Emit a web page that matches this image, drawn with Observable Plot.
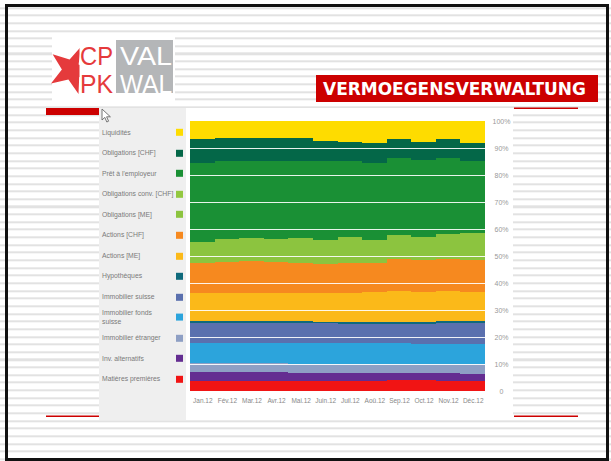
<!DOCTYPE html>
<html><head><meta charset="utf-8">
<script src="https://cdn.jsdelivr.net/npm/d3@7"></script>
<script src="https://cdn.jsdelivr.net/npm/@observablehq/plot@0.6"></script>
<style>
body{margin:0;background:#fff;}
#slide{position:relative;width:611px;height:461px;overflow:hidden;font-family:"Liberation Sans",Arial,sans-serif;
background:repeating-linear-gradient(to bottom,#fff 0px,#fff 5.6px,#e2e2e2 5.6px,#e2e2e2 7.65px);background-position:0 1.3px;}
.abs{position:absolute;}
#frame{left:5px;top:4px;width:604px;height:457px;border:3px solid #111;box-sizing:border-box;}
#legendPanel{left:99px;top:108px;width:87px;height:312px;background:#efefef;}
#chartPanel{left:186px;top:108px;width:327px;height:312px;background:#fff;}
.item{position:absolute;left:102px;width:84px;display:flex;align-items:center;transform:translateY(-50%);}
.item span{font-size:6.8px;line-height:8.4px;color:#7a7a7a;width:74px;white-space:nowrap;}
.item i{display:block;width:7px;height:7px;}
#chart{left:186px;top:108px;}
</style></head>
<body>
<div id="slide">
  <div class="abs" id="frame"></div>
  <svg class="abs" style="left:0;top:0" width="611" height="461">
    <defs><clipPath id="starclip"><rect x="40" y="30" width="39.5" height="70"/></clipPath></defs>
    <rect x="52" y="35" width="123" height="67" fill="#fff"/>
    <rect x="116" y="40" width="57" height="53" fill="#b4b6b8"/>
    <polygon clip-path="url(#starclip)" fill="#e53a3c"
      points="81,46.7 78.6,64.4 97,71.3 79.2,77.2 78.5,94.1 68.4,79.6 51,83.6 61.9,69.6 52.6,54.3 69.6,59.6"/>
    <text x="80" y="64.5" font-family="'Liberation Sans'" font-size="25" fill="#e53a3c" textLength="33" lengthAdjust="spacingAndGlyphs">CP</text>
    <text x="80" y="93" font-family="'Liberation Sans'" font-size="25" fill="#e53a3c" textLength="33" lengthAdjust="spacingAndGlyphs">PK</text>
    <text x="120" y="64.5" font-family="'Liberation Sans'" font-size="25" fill="#fff" textLength="52" lengthAdjust="spacingAndGlyphs">VAL</text>
    <text x="120" y="93" font-family="'Liberation Sans'" font-size="25" fill="#fff" textLength="52" lengthAdjust="spacingAndGlyphs">WAL</text>
    <rect x="316" y="75" width="282" height="27" fill="#cc0000"/>
    <text x="323" y="95" font-family="'DejaVu Sans'" font-weight="bold" font-size="17" fill="#fff" textLength="263" lengthAdjust="spacingAndGlyphs">VERMOEGENSVERWALTUNG</text>
    <rect x="46" y="108" width="53" height="7" fill="#cc0000"/>
    <rect x="514" y="107.5" width="64" height="1.5" fill="#cc0000"/>
    <rect x="46" y="415.5" width="53" height="1.5" fill="#cc0000"/>
    <rect x="514" y="415.5" width="64" height="1.5" fill="#cc0000"/>
  </svg>
  <div class="abs" id="legendPanel"></div>
  <div class="abs" id="chartPanel"></div>
  <svg class="abs" style="left:101px;top:108px" width="12" height="16">
    <path d="M1,1 L1,12 L3.8,9.4 L5.8,14 L7.6,13.2 L5.6,8.8 L9.4,8.8 Z" fill="#fff" stroke="#666" stroke-width="0.9"/>
  </svg>
  <div id="legend"></div>
  <div class="abs" id="chart"></div>
</div>
<script>
const months = ["Jan.12","Fév.12","Mar.12","Avr.12","Mai.12","Juin.12","Juil.12","Aoû.12","Sep.12","Oct.12","Nov.12","Déc.12"];
const categories = ["Liquidités","Obligations [CHF]","Prêt à l'employeur","Obligations conv. [CHF]","Obligations [ME]","Actions [CHF]","Actions [ME]","Hypothèques","Immobilier suisse","Immobilier fonds suisse","Immobilier étranger","Inv. alternatifs","Matières premières"];
const colors = ["#fedc00","#046748","#1a9035","#93c840","#8cc43f","#f6891f","#fbb919","#0f6a7c","#5a70ae","#2ca4dc","#8e9fc4","#642d91","#f11414"];
const yTicks = [0,10,20,30,40,50,60,70,80,90,100];

// values in % per month (Jan..Dec)
const liquidites      = [6.8,6.2,6.2,6.2,6.2,7.3,7.7,8.3,6.8,7.7,6.8,8.3];
const obligationsCHF  = [8.9,8.5,8.5,8.5,8.5,7.5,7.0,7.1,7.0,6.7,7.0,6.4];
const pretEmployeur   = [29.0,29.1,28.8,29.0,28.8,29.2,28.4,28.6,28.5,28.4,28.0,26.8];
const obligConvCHF    = [0,0,0,0,0,0,0,0,0,0,0,0];
const obligationsME   = [7.8,8.5,8.5,8.5,9.0,8.8,9.5,8.7,8.9,8.8,9.4,9.9];
const actionsCHF      = [11.3,11.5,11.7,11.5,11.3,11.0,11.2,10.7,11.8,11.8,11.9,12.0];
const actionsME       = [10.4,10.4,10.5,10.5,10.4,10.6,10.7,11.1,11.3,11.0,10.9,10.8];
const hypotheques     = [0.6,0.6,0.6,0.6,0.6,0.5,0.6,0.6,0.7,0.7,0.8,0.7];
const immoSuisse      = [7.5,7.3,7.3,7.3,7.4,7.3,7.3,7.3,7.4,7.6,7.7,7.6];
const immoFonds       = [7.5,7.7,7.6,7.7,7.7,7.7,7.6,7.5,7.6,7.4,7.5,7.6];
const immoEtranger    = [3.2,3.2,3.3,3.2,3.5,3.5,3.5,3.4,3.2,3.4,3.2,3.5];
const invAlternatifs  = [3.3,3.3,3.3,3.2,2.8,2.9,2.8,2.9,2.8,2.6,3.1,2.8];
const matieres        = [3.7,3.7,3.7,3.8,3.8,3.7,3.7,3.8,4.0,3.9,3.7,3.6];

const series = [liquidites,obligationsCHF,pretEmployeur,obligConvCHF,obligationsME,actionsCHF,actionsME,hypotheques,immoSuisse,immoFonds,immoEtranger,invAlternatifs,matieres];

// build table bottom layer first
const data = [];
for (let k = categories.length - 1; k >= 0; k--) {
  months.forEach((m, i) => data.push({month: m, category: categories[k], value: series[k][i]}));
}

// legend
const leg = document.getElementById("legend");
categories.forEach((c, i) => {
  const d = document.createElement("div");
  d.className = "item";
  d.style.top = (132.5 + i * 20.55) + "px";
  const label = c.replace("fonds suisse", "fonds<br>suisse");
  d.innerHTML = `<span>${label}</span><i style="background:${colors[i]}"></i>`;
  leg.appendChild(d);
});

const chart = Plot.plot({
  width: 327, height: 312,
  marginLeft: 4, marginRight: 28, marginTop: 13, marginBottom: 29,
  style: {fontFamily: "'Liberation Sans', Arial, sans-serif", background: "transparent"},
  x: {domain: months, padding: 0, round: false, label: null},
  y: {domain: [0, 100], label: null},
  color: {domain: categories, range: colors},
  marks: [
    Plot.barY(data, {x: "month", y: "value", fill: "category", shapeRendering: "crispEdges"}),
    Plot.ruleY(yTicks.filter(d => d > 0 && d < 100), {stroke: "#fff", strokeWidth: 1, strokeOpacity: 0.9}),
    Plot.axisX({tickSize: 0, tickPadding: 7, fontSize: 6.5, fill: "#888"}),
    Plot.axisY({anchor: "right", ticks: yTicks, tickSize: 0, tickPadding: 16, textAnchor: "middle",
      tickFormat: d => d === 0 ? "0" : d + "%", fontSize: 7, fill: "#999"})
  ]
});
document.getElementById("chart").appendChild(chart);
</script>
</body></html>
